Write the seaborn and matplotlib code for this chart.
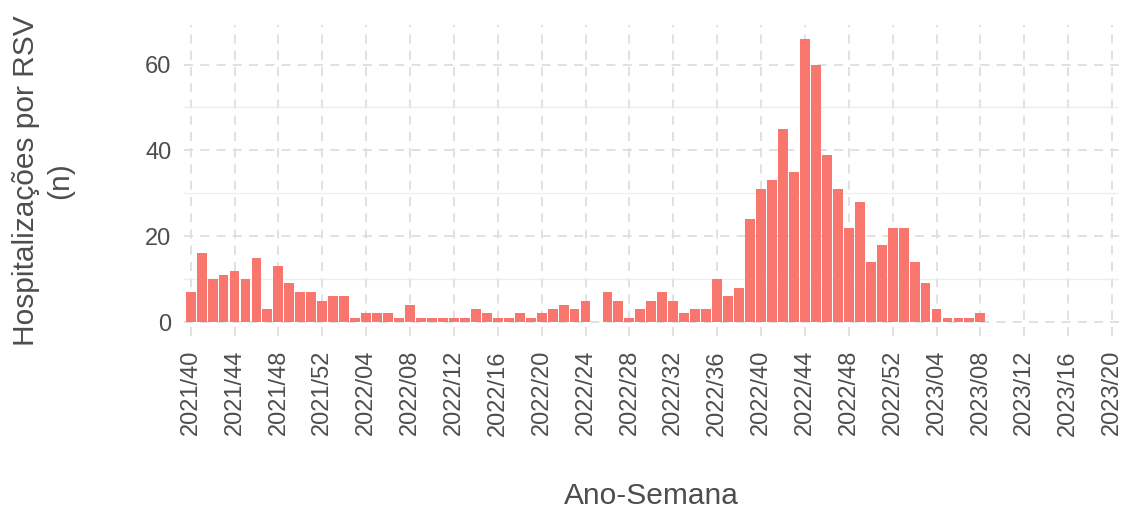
import numpy as np
import pandas as pd
import matplotlib
matplotlib.use("Agg")
import matplotlib.pyplot as plt
import seaborn as sns

# ===========================================================
# Données : hospitalisations hebdomadaires par RSV
# ===========================================================

# 2021, semaines 40 à 52
counts_2021 = [7, 16, 10, 11, 12, 10, 15, 3, 13, 9, 7, 7, 5]
# 2022, semaines 01 à 52
counts_2022 = [6, 6, 1, 2, 2, 2, 1, 4, 1, 1, 1, 1, 1, 3, 2, 1, 1, 2, 1, 2,
               3, 4, 3, 5, 0, 7, 5, 1, 3, 5, 7, 5, 2, 3, 3, 10, 6, 8, 24, 31,
               33, 45, 35, 66, 60, 39, 31, 22, 28, 14, 18, 22]
# 2023, semaines 01 à 08
counts_2023 = [22, 14, 9, 3, 1, 1, 1, 2]

# axe : de 2021/40 à 2023/20
axis_weeks = ([f"2021/{w:02d}" for w in range(40, 53)]
              + [f"2022/{w:02d}" for w in range(1, 53)]
              + [f"2023/{w:02d}" for w in range(1, 21)])

data_weeks = axis_weeks[:len(counts_2021) + len(counts_2022) + len(counts_2023)]
df = pd.DataFrame({
    "semana": data_weeks,
    "n": counts_2021 + counts_2022 + counts_2023,
})

# ===========================================================
# Figure
# ===========================================================

sns.set_style("white")
plt.rcParams["font.family"] = ["Liberation Sans", "DejaVu Sans"]

fig = plt.figure(figsize=(11.25, 5.08), dpi=100)
ax = fig.add_axes([0.1636, 0.3382, 0.8307, 0.6134])

sns.barplot(
    data=df, x="semana", y="n", order=axis_weeks,
    color="#F8766D", saturation=1, width=0.9, linewidth=0, ax=ax
)

ax.set_xlim(-0.6, len(axis_weeks) - 1 + 0.6)
ax.set_ylim(-3.3, 69.3)

tick_pos = list(range(0, len(axis_weeks), 4))
ax.set_xticks(tick_pos)
ax.set_xticklabels([axis_weeks[i] for i in tick_pos], rotation=90,
                   ha="center", va="top")
ax.set_yticks([0, 20, 40, 60])
ax.set_yticks([10, 30, 50], minor=True)

# Grille : majeure en tirets, mineure continue
ax.set_axisbelow(True)
ax.grid(which="major", axis="both", color="#dedede", linestyle=(0, (5, 4)),
        linewidth=1.3)
ax.grid(which="minor", axis="y", color="#ececec", linestyle="-",
        linewidth=0.9)

for s in ax.spines.values():
    s.set_visible(False)

ax.tick_params(axis="both", which="both", length=0, colors="#4d4d4d")
ax.tick_params(axis="y", labelsize=17, pad=9)
ax.tick_params(axis="x", labelsize=17, pad=10)

ax.set_xlabel("")
ax.set_ylabel("")
fig.text(651 / 1125, 1 - 504 / 508, "Ano-Semana", fontsize=21.5,
         color="#4d4d4d", ha="center", va="baseline")
fig.text(43 / 1125, 1 - 181 / 508, "Hospitalizações por RSV\n(n)",
         fontsize=21.5, color="#4d4d4d", rotation=90, ha="center",
         va="center", multialignment="center", linespacing=1.25)

fig.savefig("out.png", dpi=100, facecolor="white")
